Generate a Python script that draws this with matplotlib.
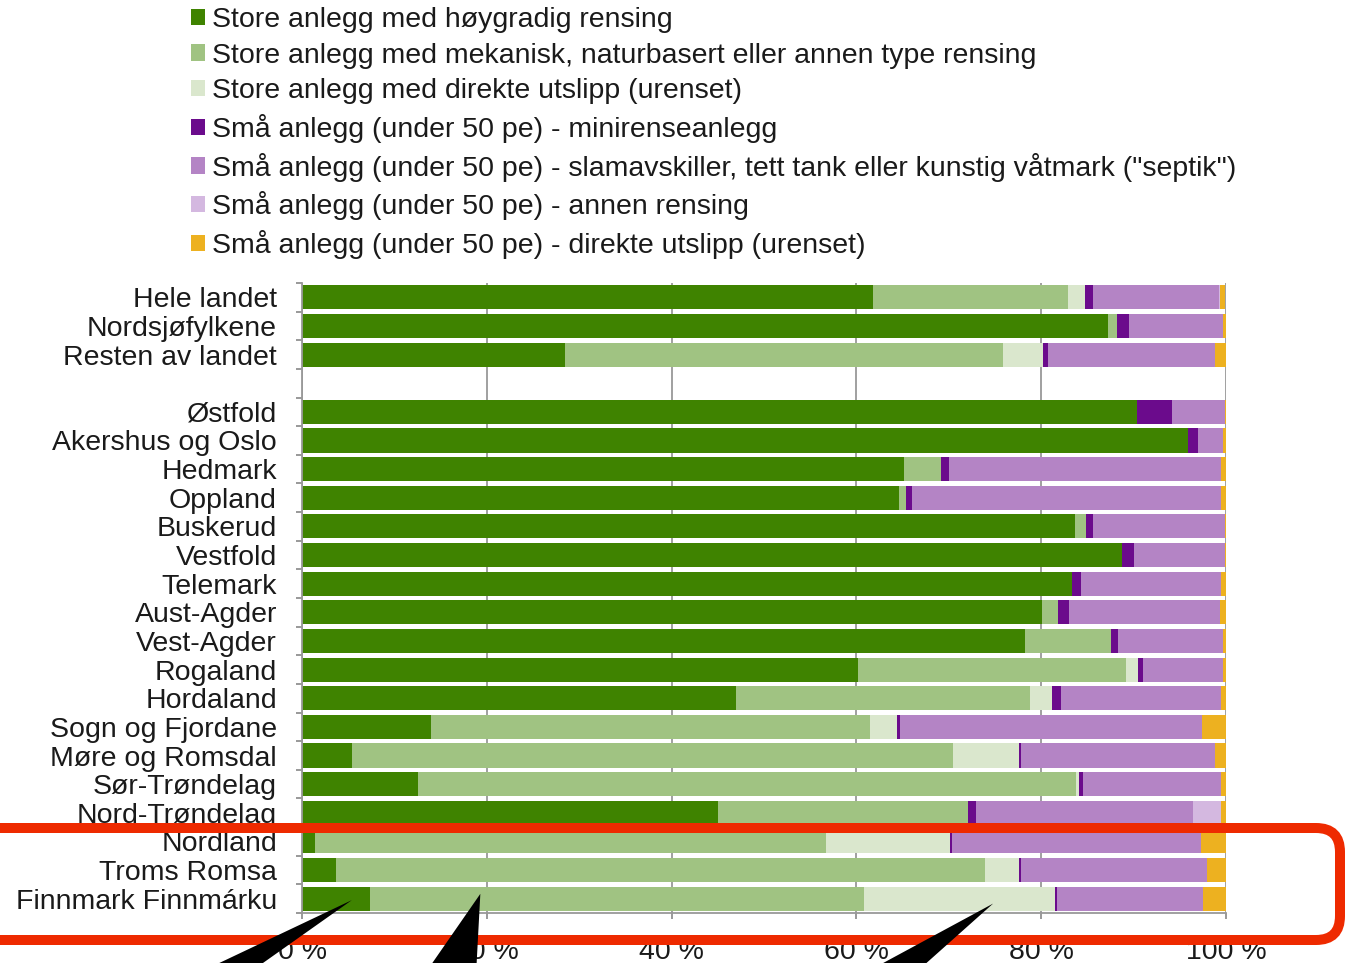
import numpy as np
import matplotlib
matplotlib.use("Agg")
import matplotlib.pyplot as plt
from matplotlib.patches import FancyBboxPatch, Polygon

plt.rcParams.update({"font.family": ["Liberation Sans", "DejaVu Sans"], "text.color": "#1a1a1a",
                     "xtick.color": "#888888", "ytick.color": "#888888",
                     "xtick.labelcolor": "#1a1a1a", "ytick.labelcolor": "#1a1a1a"})

categories = ["Hele landet", "Nordsjøfylkene", "Resten av landet",
              "Østfold", "Akershus og Oslo", "Hedmark", "Oppland", "Buskerud", "Vestfold",
              "Telemark", "Aust-Agder", "Vest-Agder", "Rogaland", "Hordaland",
              "Sogn og Fjordane", "Møre og Romsdal", "Sør-Trøndelag", "Nord-Trøndelag",
              "Nordland", "Troms Romsa", "Finnmark Finnmárku"]

store_hoygradig = [61.8, 87.2, 28.5, 90.4, 95.9, 65.2, 64.6, 83.7, 88.7, 83.3, 80.1,
                   78.2, 60.2, 47.0, 14.0, 5.4, 12.5, 45.0, 1.4, 3.7, 7.4]
store_mekanisk = [21.1, 1.0, 47.4, 0.0, 0.0, 4.0, 0.8, 1.1, 0.0, 0.0, 1.7,
                  9.4, 29.0, 31.8, 47.5, 65.1, 71.3, 27.1, 55.3, 70.2, 53.4]
store_direkte = [1.8, 0.0, 4.3, 0.0, 0.0, 0.0, 0.0, 0.0, 0.0, 0.0, 0.0,
                 0.0, 1.3, 2.4, 2.9, 7.1, 0.3, 0.0, 13.4, 3.7, 20.7]
sma_minirense = [0.9, 1.3, 0.5, 3.8, 1.1, 0.8, 0.6, 0.8, 1.3, 1.0, 1.2,
                 0.7, 0.5, 0.9, 0.3, 0.2, 0.4, 0.8, 0.3, 0.2, 0.2]
sma_septik = [13.6, 10.2, 18.1, 5.7, 2.7, 29.5, 33.5, 14.3, 9.9, 15.2, 16.3,
              11.4, 8.7, 17.4, 32.7, 21.0, 15.0, 23.5, 26.9, 20.1, 15.8]
sma_annen = [0.1, 0.0, 0.0, 0.0, 0.0, 0.0, 0.0, 0.0, 0.0, 0.0, 0.0,
             0.0, 0.0, 0.0, 0.0, 0.0, 0.0, 3.1, 0.0, 0.0, 0.0]
sma_direkte = [0.6, 0.3, 1.2, 0.1, 0.3, 0.5, 0.5, 0.1, 0.1, 0.5, 0.7,
               0.3, 0.3, 0.5, 2.6, 1.2, 0.5, 0.5, 2.7, 2.3, 2.7]

series_names = ["Store anlegg med høygradig rensing",
                "Store anlegg med mekanisk, naturbasert eller annen type rensing",
                "Store anlegg med direkte utslipp (urenset)",
                "Små anlegg (under 50 pe) - minirenseanlegg",
                "Små anlegg (under 50 pe) - slamavskiller, tett tank eller kunstig våtmark (\"septik\")",
                "Små anlegg (under 50 pe) - annen rensing",
                "Små anlegg (under 50 pe) - direkte utslipp (urenset)"]
colors = ["#3F8300", "#A0C382", "#DAE7CD", "#6B0B8C", "#B484C5", "#D4B8E0", "#EDB120"]
series = [store_hoygradig, store_mekanisk, store_direkte, sma_minirense,
          sma_septik, sma_annen, sma_direkte]

xticks = [0, 20, 40, 60, 80, 100]

# pointers: (value %, row offset within Finnmark row, base x in figure pixels)
pointers = [(5.4, 0.05, 220), (19.3, -0.17, 450), (74.8, 0.17, 887)]

FS = 20.5
W, H, DPI = 1345, 963, 100
fig = plt.figure(figsize=(W / DPI, H / DPI), dpi=DPI)
ax = fig.add_axes([302 / W, 1 - 913 / H, (1226 - 302) / W, (913 - 283) / H])

# blank slot after the three summary rows
idx = np.arange(len(categories))
pos = idx + (idx >= 3)
nslots = len(categories) + 1

left = np.zeros(len(categories))
for name, vals, c in zip(series_names, series, colors):
    vals = np.array(vals)
    ax.barh(pos, vals, left=left, height=0.84, color=c, label=name, zorder=2)
    left += vals

ax.set_xlim(0, 100)
ax.set_ylim(nslots - 0.5, -0.5)
ax.set_xticks(xticks)
ax.set_xticklabels([f"{t} %" for t in xticks], fontsize=FS)
ax.set_yticks(pos)
ax.set_yticklabels(categories, fontsize=FS)
ax.set_yticks(np.arange(nslots + 1) - 0.5, minor=True)
ax.tick_params(axis="y", which="major", length=0, pad=18)
ax.tick_params(axis="y", which="minor", length=4, width=1.2)
ax.tick_params(axis="x", length=4, width=1.2, pad=15)
ax.grid(axis="x", color="#999999", lw=1.3, zorder=0)
for s in ["top", "right"]:
    ax.spines[s].set_visible(False)
for s in ["left", "bottom"]:
    ax.spines[s].set_color("#999999")
    ax.spines[s].set_linewidth(1.3)

fig.legend(loc="upper left", bbox_to_anchor=(191 / W, 1 - 7 / H), frameon=False,
           fontsize=20.5, handlelength=0.5, handleheight=0.5, handletextpad=0.25,
           labelspacing=0.34, borderpad=0, borderaxespad=0)

# red highlight box around the three northern counties
box = FancyBboxPatch((-0.6, (H - 940) / DPI), (1340 + 60) / DPI, (940 - 828) / DPI,
                     boxstyle="round,pad=0,rounding_size=0.24", transform=fig.dpi_scale_trans,
                     fill=False, edgecolor="#EE2A00", lw=7.2, clip_on=False, zorder=5)
ax.add_patch(box)

# black pointer wedges coming up from below the figure
fin = pos[-1]
for xv, dy, bx in pointers:
    tx, ty = ax.transData.transform((xv, fin + dy))
    half = 26
    wedge = Polygon([(tx, ty), (bx - half, -12), (bx + half, -12)],
                    closed=True, transform=None, facecolor="black", edgecolor="none",
                    clip_on=False, zorder=6)
    ax.add_patch(wedge)

fig.savefig("out.png", dpi=DPI)
